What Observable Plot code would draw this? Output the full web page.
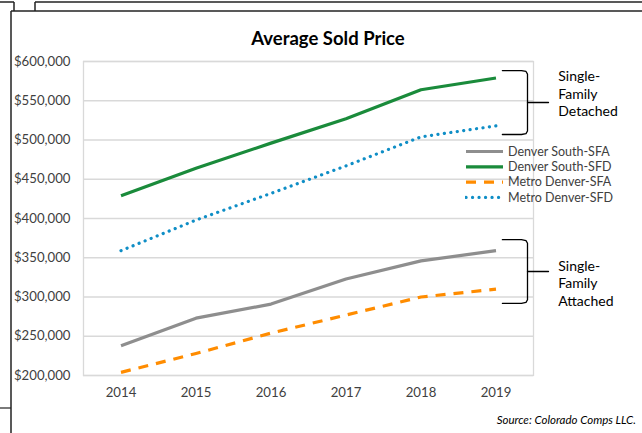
<!DOCTYPE html>
<html>
<head>
<meta charset="utf-8">
<script src="https://cdn.jsdelivr.net/npm/d3@7"></script>
<script src="https://cdn.jsdelivr.net/npm/@observablehq/plot@0.6"></script>
<style>
  html, body { margin: 0; padding: 0; background: #fff; }
  #wrap { position: relative; width: 642px; height: 433px; overflow: hidden; font-family: Lato, "Open Sans", sans-serif; }
  #chart { position: absolute; left: 0; top: 0; }
  #frame { position: absolute; left: 0; top: 0; }
  #title { position: absolute; left: 0; width: 656px; top: 27px; text-align: center; font-weight: bold; font-size: 18.5px; color: #000; }
  #source { position: absolute; right: 6px; top: 413px; font-style: italic; font-size: 11.5px; color: #000; }
  #legend { position: absolute; left: 465px; top: 144px; }
</style>
</head>
<body>
<div id="wrap">
  <svg id="frame" width="642" height="433"></svg>
  <div id="chart"></div>
  <div id="title">Average Sold Price</div>
  <div id="legend"></div>
  <div id="source">Source: Colorado Comps LLC.</div>
</div>
<script>
// ---- data ----
const years = [2014, 2015, 2016, 2017, 2018, 2019];
const denverSouthSFA = [238000, 273000, 291000, 323000, 346000, 359000];
const denverSouthSFD = [429000, 464000, 496000, 527000, 564000, 579000];
const metroDenverSFA = [204000, 228000, 254000, 277000, 300000, 310000];
const metroDenverSFD = [359000, 398000, 432000, 467000, 504000, 518000];
const seriesNames = ["Denver South-SFA", "Denver South-SFD", "Metro Denver-SFA", "Metro Denver-SFD"];
const yTicks = [200000, 250000, 300000, 350000, 400000, 450000, 500000, 550000, 600000];
const groupLabels = [["Single-", "Family", "Detached"], ["Single-", "Family", "Attached"]];
const groupRanges = [[507000, 588500], [292000, 373000]];
const groupLabelCenters = [558000, 317000];

// ---- styles ----
const styles = {
  "Denver South-SFA": {stroke: "#8e8e8e", dash: null, cap: "butt"},
  "Denver South-SFD": {stroke: "#1a8b3b", dash: null, cap: "butt"},
  "Metro Denver-SFA": {stroke: "#ff8c00", dash: "10 8", cap: "butt"},
  "Metro Denver-SFD": {stroke: "#0f8ec6", dash: "0.1 6.4", cap: "round"}
};
const seriesValues = [denverSouthSFA, denverSouthSFD, metroDenverSFA, metroDenverSFD];
const rows = seriesNames.flatMap((s, i) => years.map((y, j) => ({series: s, year: y, value: seriesValues[i][j]})));

// bracket geometry (in data space, relative to last year)
const last = years[years.length - 1];
const bx0 = last + 0.085, bx1 = last + 0.42, bx2 = last + 0.7, bxText = last + 0.83;
const bracketPts = [];
const tickPts = [];
const labelRows = [];
groupRanges.forEach(([lo, hi], k) => {
  const mid = (lo + hi) / 2;
  const pts = [[bx0, hi], [bx1 - 0.08, hi], [bx1 - 0.02, hi - 1200], [bx1, hi - 4500], [bx1, lo + 4500], [bx1 - 0.02, lo + 1200], [bx1 - 0.08, lo], [bx0, lo]];
  pts.forEach(p => bracketPts.push({g: k, x: p[0], y: p[1]}));
  tickPts.push({g: k, x: bx1, y: mid}, {g: k, x: bx2, y: mid});
  groupLabels[k].forEach((t, i) => labelRows.push({x: bxText, y: groupLabelCenters[k], label: t}));
});

const lineMarks = seriesNames.map(s => Plot.line(rows.filter(r => r.series === s), {
  x: "year", y: "value", stroke: styles[s].stroke, strokeWidth: 3.2,
  strokeDasharray: styles[s].dash, strokeLinecap: styles[s].cap, strokeLinejoin: "round"
}));

const chart = Plot.plot({
  width: 642,
  height: 433,
  marginLeft: 83,
  marginRight: 109,
  marginTop: 61,
  marginBottom: 58,
  style: {fontFamily: "Lato, 'Open Sans', sans-serif", fontSize: "13.2px", color: "#404040", background: "transparent", overflow: "visible"},
  x: {type: "linear", domain: [years[0] - 0.5, last + 0.5]},
  y: {domain: [yTicks[0], yTicks[yTicks.length - 1]]},
  marks: [
    Plot.gridY(yTicks, {stroke: "#d9d9d9", strokeOpacity: 1, strokeWidth: 1.3}),
    Plot.frame({stroke: "#d9d9d9", strokeWidth: 1.3}),
    Plot.axisY(yTicks, {tickSize: 0, tickPadding: 13, label: null, tickFormat: d => "$" + d3.format(",")(d)}),
    Plot.axisX(years, {tickSize: 0, tickPadding: 12, label: null, tickFormat: d => String(d)}),
    ...lineMarks,
    Plot.line(bracketPts, {x: "x", y: "y", z: "g", stroke: "#000", strokeWidth: 1.3, clip: false}),
    Plot.line(tickPts, {x: "x", y: "y", z: "g", stroke: "#000", strokeWidth: 1.3, clip: false}),
    ...[0, 1, 2].map(i => Plot.text(labelRows.filter((r, j) => j % 3 === i), {x: "x", y: "y", text: "label", dy: (i - 1) * 17.5, textAnchor: "start", fontSize: 14, fill: "#000", clip: false}))
  ]
});
document.getElementById("chart").appendChild(chart);

// legend
const lg = d3.select("#legend").append("svg").attr("width", 170).attr("height", 64);
seriesNames.forEach((s, i) => {
  const y = 7.5 + i * 15.3;
  lg.append("line").attr("x1", 1).attr("x2", 38).attr("y1", y).attr("y2", y)
    .attr("stroke", styles[s].stroke).attr("stroke-width", 3.2)
    .attr("stroke-dasharray", styles[s].dash).attr("stroke-linecap", styles[s].cap);
  lg.append("text").attr("x", 43).attr("y", y).attr("dy", "0.35em")
    .attr("font-size", 12.5).attr("fill", "#404040").attr("font-family", "Lato, 'Open Sans', sans-serif").text(s);
});

// outer frame decoration
const fr = d3.select("#frame");
const seg = (x1, y1, x2, y2, w) => fr.append("line").attr("x1", x1).attr("y1", y1).attr("x2", x2).attr("y2", y2).attr("stroke", "#222").attr("stroke-width", w || 1.5);
seg(0, 2, 14, 2); seg(14, 2, 14, 11);
seg(35, 2, 642, 2); seg(35, 2, 35, 11);
seg(11, 11, 642, 11); seg(11, 11, 11, 433);
seg(0, 408, 11, 408, 1.2);
</script>
</body>
</html>
